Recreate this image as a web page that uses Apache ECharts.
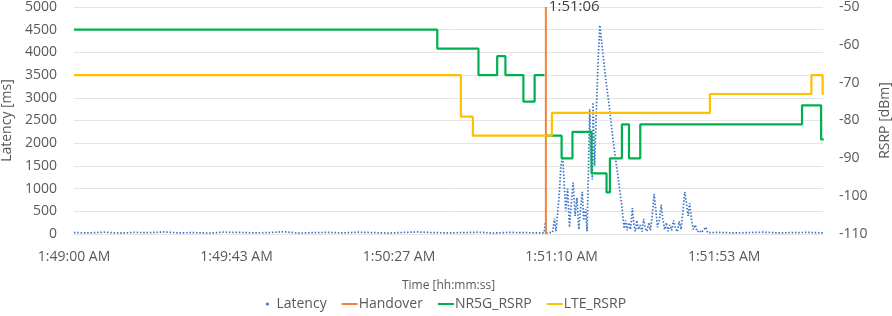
<!DOCTYPE html>
<html>
<head>
<meta charset="utf-8">
<title>Latency / RSRP</title>
<script src="https://cdn.jsdelivr.net/npm/echarts@6/dist/echarts.min.js"></script>
<style>
    html, body { margin: 0; padding: 0; background: #fff; }
    #chart { width: 892px; height: 316px; }
</style>
</head>
<body>
<div id="chart"></div>
<script>
    // x axis: seconds since 1:49:00 AM
    var xTickLabels = ['1:49:00 AM', '1:49:43 AM', '1:50:27 AM', '1:51:10 AM', '1:51:53 AM'];
    var xTickStep = 43.4;

    // latency samples (ms)
    var latencyTime = [0, 4, 8, 12, 16, 20, 24, 28, 32, 36, 40, 44, 48, 52, 56, 60, 64, 68, 72, 76, 80, 84, 88, 92, 96, 100, 104, 108, 112, 116, 120, 124,
        125.5, 125.9, 126.2, 127.0, 127.8, 128.3, 128.7, 129.2, 129.6, 130.0, 130.5, 130.9, 131.3, 131.8, 132.3, 132.8, 133.3, 133.8, 134.3, 134.8,
        135.3, 135.7, 136.1, 136.6, 137.0, 137.4, 137.7, 138.0, 138.4, 138.6, 139.0, 139.2, 139.6, 140.0, 140.4, 141.2, 142.0, 142.8, 143.9, 145.2,
        146.0, 146.5, 146.9, 147.3, 147.7, 148.1, 148.6, 149.1, 149.5, 149.9, 150.3, 150.7, 151.2, 151.7, 152.1, 152.6, 153.0, 153.5, 153.9, 154.4,
        154.9, 155.4, 155.8, 156.3, 156.8, 157.2, 157.7, 158.2, 158.6, 159.1, 159.6, 160.1, 160.6, 161.1, 161.6, 162.1, 162.6, 163.1, 163.5, 164.0,
        164.4, 164.9, 165.4, 165.9, 166.4, 167.0, 167.5, 168.0, 168.7, 169.2, 172, 176, 180, 184, 188, 192, 196, 200];
    var latencyMs = [30, 25, 40, 20, 35, 30, 45, 25, 30, 20, 40, 35, 25, 30, 50, 20, 30, 35, 25, 40, 30, 20, 35, 45, 30, 25, 30, 40, 20, 35, 30, 25,
        25, 260, 20, 30, 40, 340, 60, 30, 900, 1500, 1700, 1100, 500, 1000, 150, 700, 1130, 400, 800, 100,
        600, 930, 300, 550, 60, 1500, 2750, 1800, 1200, 2900, 1500, 2000, 3000, 3900, 4600, 4000, 3400, 2900, 2100, 1300,
        800, 450, 120, 300, 80, 250, 100, 570, 200, 60, 300, 100, 200, 50, 330, 120, 60, 250, 80, 400,
        880, 500, 150, 300, 640, 350, 100, 250, 60, 200, 80, 300, 120, 50, 280, 100, 500, 930, 700, 400,
        680, 300, 100, 200, 50, 80, 30, 60, 150, 30, 35, 25, 30, 40, 25, 30, 35, 25];

    // handover marker
    var handoverTime = [126, 126];
    var handoverMs = [0, 5000];
    var handoverLabel = '1:51:06';

    // RSRP steps (dBm), each value holds until the next time
    var nrTime = [0, 97, 108, 113, 115.2, 120, 123, 125.3, 125.6, 126, 130.2, 133.1, 138.2, 142.2, 143.1, 146.3, 148.2, 151.2, 194.4, 199.5, 200.2];
    var nrRsrp = [-56, -61, -68, -63, -68, -75, -68, -68, '-', -84, -90, -83, -94, -99, -90, -81, -90, -81, -76, -85, -85];

    var lteTime = [0, 103.3, 106.5, 127.6, 169.8, 196.9, 199.9, 200.2];
    var lteRsrp = [-68, -79, -84, -78, -73, -68, -73, -73];

    function pairs(xs, ys) {
        var out = [];
        for (var i = 0; i < xs.length; i++) {
            out.push([xs[i], ys[i]]);
        }
        return out;
    }

    function plain(v) {
        return String(v);
    }

    var FONT = 'Open Sans';
    var TXT = '#595959';

    var myChart = echarts.init(document.getElementById('chart'), null, { renderer: 'canvas' });
    var option = {
        animation: false,
        textStyle: { fontFamily: FONT },
        grid: { left: 74, right: 69, top: 7, bottom: 82, containLabel: false, outerBoundsMode: 'none' },
        legend: {
            bottom: 0,
            left: 'center',
            itemWidth: 16,
            itemHeight: 3,
            itemGap: 14,
            textStyle: { fontFamily: FONT, fontSize: 14, color: TXT, padding: [0, 0, 0, -4] },
            data: [{ name: 'Latency', icon: 'circle' }, 'Handover', 'NR5G_RSRP', 'LTE_RSRP']
        },
        xAxis: {
            type: 'value',
            min: 0,
            max: 200,
            interval: xTickStep,
            name: 'Time [hh:mm:ss]',
            nameLocation: 'middle',
            nameGap: 46,
            nameTextStyle: { fontFamily: FONT, fontSize: 12, color: TXT },
            axisLine: { show: false },
            axisTick: { show: false },
            splitLine: { show: false },
            axisLabel: {
                margin: 16,
                fontSize: 14,
                color: TXT,
                showMaxLabel: false,
                formatter: function (v) {
                    var i = Math.round(v / xTickStep);
                    if (Math.abs(v - i * xTickStep) > 0.01) return '';
                    return xTickLabels[i] || '';
                }
            }
        },
        yAxis: [{
            type: 'value',
            min: 0,
            max: 5000,
            interval: 500,
            name: 'Latency [ms]',
            nameLocation: 'middle',
            nameRotate: 90,
            nameGap: 57,
            nameTextStyle: { fontFamily: FONT, fontSize: 14, color: TXT },
            axisLine: { show: false },
            axisTick: { show: false },
            axisLabel: { margin: 17, fontSize: 14, color: TXT, formatter: plain },
            splitLine: { lineStyle: { color: '#E4E4E4', width: 1 } }
        }, {
            type: 'value',
            min: -110,
            max: -50,
            interval: 10,
            position: 'right',
            name: 'RSRP [dBm]',
            nameLocation: 'middle',
            nameRotate: 90,
            nameGap: 50,
            nameTextStyle: { fontFamily: FONT, fontSize: 14, color: TXT },
            axisLine: { show: false },
            axisTick: { show: false },
            axisLabel: { margin: 16, fontSize: 14, color: TXT, formatter: plain },
            splitLine: { show: false }
        }],
        series: [{
            name: 'Latency',
            type: 'line',
            yAxisIndex: 0,
            symbol: 'none',
            data: pairs(latencyTime, latencyMs),
            itemStyle: { color: '#3B72C6' },
            lineStyle: { color: '#3B72C6', width: 1.7, type: [1.5, 1.8] },
            z: 2
        }, {
            name: 'Handover',
            type: 'line',
            yAxisIndex: 0,
            symbol: 'none',
            data: pairs(handoverTime, handoverMs),
            itemStyle: { color: '#F0843C' },
            lineStyle: { color: '#F0843C', width: 2 },
            endLabel: {
                show: true,
                formatter: handoverLabel,
                distance: 3,
                fontFamily: FONT,
                fontSize: 15,
                color: '#404040'
            },
            z: 3
        }, {
            name: 'NR5G_RSRP',
            type: 'line',
            yAxisIndex: 1,
            symbol: 'none',
            step: 'end',
            data: pairs(nrTime, nrRsrp),
            itemStyle: { color: '#00B050' },
            lineStyle: { color: '#00B050', width: 2.2 },
            z: 4
        }, {
            name: 'LTE_RSRP',
            type: 'line',
            yAxisIndex: 1,
            symbol: 'none',
            step: 'end',
            data: pairs(lteTime, lteRsrp),
            itemStyle: { color: '#FFC000' },
            lineStyle: { color: '#FFC000', width: 2.2 },
            z: 5
        }]
    };
    myChart.setOption(option);
</script>
</body>
</html>
